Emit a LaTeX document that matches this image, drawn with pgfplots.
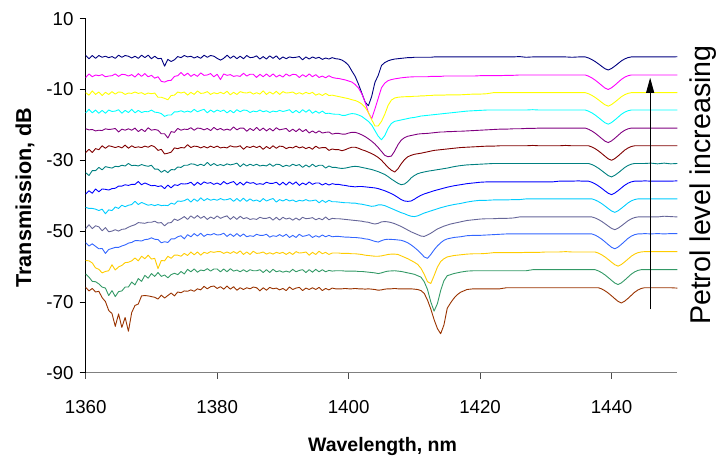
\documentclass[border=0pt]{standalone}
\usepackage{pgfplots}
\pgfplotsset{compat=1.18}
\usepackage{pgfplotstable}
\usepackage{fontspec}
\setmainfont{Liberation Sans}
\usetikzlibrary{arrows.meta}

\definecolor{cNavy}{HTML}{000080}
\definecolor{cMagenta}{HTML}{FF00FF}
\definecolor{cYellow}{HTML}{FFFF00}
\definecolor{cCyan}{HTML}{00FFFF}
\definecolor{cPurple}{HTML}{800080}
\definecolor{cMaroon}{HTML}{800000}
\definecolor{cTeal}{HTML}{008080}
\definecolor{cBlue}{HTML}{0000FF}
\definecolor{cSky}{HTML}{00CCFF}
\definecolor{cSlate}{HTML}{666699}
\definecolor{cRoyal}{HTML}{3366FF}
\definecolor{cGold}{HTML}{FFCC00}
\definecolor{cGreen}{HTML}{339966}
\definecolor{cBrown}{HTML}{993300}

% Transmission spectra (dB), one column per petrol level, offset for display
\pgfplotstableread{
x t0 t1 t2 t3 t4 t5 t6 t7 t8 t9 t10 t11 t12 t13
1360.0 -0.4 -6.6 -10.9 -16.6 -21.1 -27.8 -33.5 -39.5 -43.3 -49.3 -53.3 -58.3 -62.1 -65.9
1360.5 -1.3 -5.6 -11.6 -15.6 -21.4 -26.9 -34.3 -38.6 -43.6 -48.2 -54.2 -58.4 -63.0 -66.9
1361.0 -0.4 -6.4 -10.4 -16.6 -21.3 -27.8 -32.9 -39.3 -43.6 -49.3 -53.6 -59.0 -64.2 -66.2
1361.5 -1.2 -5.9 -11.4 -15.8 -21.7 -26.7 -32.9 -38.1 -43.8 -48.5 -54.3 -60.4 -64.3 -67.2
1362.0 -0.4 -6.1 -10.7 -16.7 -21.5 -27.0 -32.0 -38.9 -44.2 -48.8 -55.0 -60.8 -64.9 -67.0
1362.5 -0.9 -5.8 -11.7 -15.9 -21.6 -25.9 -32.7 -38.1 -43.8 -49.9 -54.9 -61.8 -65.8 -68.8
1363.0 -0.6 -6.4 -10.8 -16.7 -21.1 -26.6 -31.8 -38.2 -45.1 -49.0 -56.3 -61.4 -66.1 -69.9
1363.5 -1.0 -6.2 -11.4 -15.8 -21.3 -25.9 -32.0 -38.4 -44.0 -50.2 -55.2 -61.2 -68.2 -72.4
1364.0 -0.7 -6.1 -10.6 -16.2 -21.2 -26.1 -32.2 -38.0 -44.2 -50.0 -54.9 -59.5 -66.8 -73.3
1364.5 -1.2 -5.6 -11.3 -16.1 -21.0 -26.4 -31.7 -37.9 -43.2 -49.6 -54.6 -61.0 -68.5 -76.9
1365.0 -0.3 -6.3 -10.7 -15.7 -22.0 -26.1 -31.8 -37.3 -43.6 -50.0 -54.6 -60.1 -67.1 -73.4
1365.5 -0.9 -5.7 -10.8 -16.7 -21.2 -26.5 -31.4 -37.3 -42.7 -49.5 -54.2 -59.7 -66.9 -77.2
1366.0 -0.4 -5.8 -11.4 -15.9 -21.5 -25.7 -31.6 -36.9 -43.1 -49.4 -53.9 -58.9 -65.8 -74.4
1366.5 -0.6 -6.2 -11.0 -16.5 -21.1 -26.6 -30.9 -37.1 -42.7 -48.9 -53.4 -58.8 -65.8 -78.3
1367.0 -1.1 -5.8 -11.1 -15.6 -21.5 -25.9 -31.5 -36.8 -42.5 -48.5 -53.2 -58.4 -64.4 -73.0
1367.5 -0.6 -6.5 -10.7 -16.6 -20.9 -26.4 -31.4 -36.8 -41.6 -48.2 -52.7 -57.6 -65.2 -71.0
1368.0 -1.2 -5.5 -11.1 -15.9 -21.9 -26.2 -31.6 -36.0 -42.5 -47.6 -52.7 -58.4 -63.4 -70.6
1368.5 -0.3 -6.3 -10.9 -16.5 -21.2 -26.4 -31.2 -36.9 -41.9 -47.7 -52.8 -57.1 -64.2 -68.3
1369.0 -1.0 -5.5 -11.4 -16.2 -21.9 -26.0 -31.5 -36.4 -42.3 -47.8 -52.4 -57.8 -62.5 -68.2
1369.5 -0.3 -6.4 -11.0 -16.3 -20.8 -26.3 -31.7 -36.8 -42.7 -47.5 -52.3 -56.8 -63.3 -68.3
1370.0 -1.3 -6.0 -11.2 -15.8 -21.5 -25.8 -31.4 -37.2 -42.5 -47.5 -51.9 -57.9 -62.0 -68.5
1370.5 -0.6 -6.8 -11.0 -16.4 -21.3 -26.2 -32.5 -37.1 -42.8 -47.2 -52.3 -57.7 -62.8 -68.7
1371.0 -1.3 -6.4 -12.2 -16.5 -21.5 -27.2 -32.5 -37.4 -42.5 -47.7 -52.4 -60.6 -61.7 -69.2
1371.5 -1.2 -7.7 -12.2 -16.8 -22.5 -26.9 -33.4 -37.2 -42.8 -47.6 -53.3 -58.3 -62.8 -68.1
1372.0 -3.4 -7.9 -12.5 -17.6 -22.5 -28.2 -32.8 -38.0 -42.7 -48.5 -53.0 -58.4 -62.4 -68.9
1372.5 -1.5 -7.5 -12.9 -17.2 -23.7 -28.0 -33.5 -37.0 -42.8 -47.7 -53.2 -57.1 -63.2 -68.2
1373.0 -2.1 -7.4 -11.7 -17.2 -21.9 -27.7 -32.6 -37.8 -42.1 -47.6 -52.2 -57.7 -62.3 -67.5
1373.5 -1.6 -6.3 -11.6 -16.3 -22.1 -26.5 -32.7 -36.9 -42.4 -46.6 -52.2 -56.8 -61.9 -68.3
1374.0 -0.7 -6.1 -10.7 -16.3 -21.0 -26.7 -31.9 -37.1 -41.5 -47.0 -51.6 -56.8 -62.3 -67.2
1374.5 -1.0 -5.2 -11.0 -16.0 -21.5 -26.4 -32.0 -36.6 -41.6 -46.5 -51.3 -57.1 -61.4 -67.4
1375.0 -0.4 -6.1 -10.7 -16.4 -21.2 -26.5 -31.4 -36.7 -41.4 -45.9 -52.2 -56.3 -62.1 -66.9
1375.5 -0.8 -5.4 -11.6 -16.1 -21.3 -25.6 -31.4 -36.6 -40.9 -46.7 -51.0 -56.9 -60.8 -67.0
1376.0 -0.6 -6.3 -10.8 -16.4 -20.8 -26.4 -31.0 -36.2 -41.8 -45.7 -51.6 -55.9 -61.5 -66.6
1376.5 -1.1 -5.7 -11.4 -15.6 -21.5 -26.0 -31.1 -37.1 -40.9 -46.4 -50.7 -56.7 -60.7 -67.0
1377.0 -0.7 -6.3 -10.4 -16.3 -20.9 -26.1 -31.5 -36.2 -41.6 -45.6 -51.4 -55.9 -61.6 -66.3
1377.5 -1.2 -5.3 -11.1 -15.9 -21.0 -26.5 -31.1 -36.9 -40.6 -46.4 -50.6 -56.8 -61.0 -66.6
1378.0 -0.3 -6.0 -11.0 -15.6 -21.4 -26.1 -31.5 -36.1 -41.4 -45.8 -51.5 -56.0 -61.2 -65.6
1378.5 -0.9 -5.9 -10.6 -16.6 -21.0 -26.5 -30.6 -36.5 -40.8 -46.7 -50.9 -56.3 -60.6 -66.3
1379.0 -0.4 -5.5 -11.4 -15.8 -21.6 -26.0 -31.5 -36.3 -41.3 -46.0 -51.1 -55.8 -61.3 -65.7
1379.5 -0.6 -6.4 -10.9 -16.4 -20.7 -26.4 -30.9 -36.8 -41.0 -46.5 -50.7 -56.0 -60.7 -65.5
1380.0 -1.2 -5.7 -11.2 -15.8 -21.4 -26.0 -31.5 -36.4 -41.3 -45.7 -51.1 -55.8 -60.7 -66.2
1380.5 -1.7 -7.2 -10.8 -16.2 -21.0 -26.5 -31.2 -36.9 -40.8 -46.4 -51.0 -55.8 -61.5 -65.7
1381.0 -1.2 -5.6 -11.2 -15.8 -21.5 -26.3 -31.5 -36.0 -41.2 -46.0 -50.6 -56.3 -60.7 -66.4
1381.5 -0.3 -6.0 -10.5 -16.6 -21.2 -26.5 -31.0 -36.7 -41.1 -45.7 -51.5 -55.9 -61.5 -65.5
1382.0 -1.2 -5.8 -11.5 -15.9 -21.5 -25.9 -31.3 -36.3 -40.8 -46.7 -50.8 -56.3 -60.6 -66.4
1382.5 -0.5 -6.3 -10.8 -16.6 -20.6 -26.2 -31.1 -36.0 -41.6 -45.9 -51.5 -55.8 -61.3 -65.7
1383.0 -1.3 -6.1 -11.4 -15.7 -21.4 -26.2 -30.8 -37.0 -40.8 -46.7 -50.7 -56.3 -61.0 -66.7
1383.5 -0.6 -6.3 -10.6 -16.3 -20.9 -25.9 -31.8 -36.2 -41.6 -45.8 -51.5 -55.6 -61.5 -66.0
1384.0 -1.3 -5.4 -10.9 -15.8 -20.9 -26.9 -31.0 -37.0 -40.7 -46.5 -50.8 -56.6 -60.9 -66.5
1384.5 -0.4 -6.2 -11.0 -15.9 -21.8 -26.1 -31.6 -36.1 -41.6 -46.2 -51.6 -55.9 -61.5 -66.0
1385.0 -1.0 -5.7 -10.7 -16.5 -21.0 -26.4 -31.1 -36.5 -40.9 -46.7 -51.3 -56.6 -60.9 -66.3
1385.5 -0.9 -5.7 -11.3 -16.1 -21.6 -26.0 -31.5 -36.3 -41.5 -46.5 -51.5 -55.7 -61.2 -65.8
1386.0 -0.5 -6.6 -10.9 -16.3 -20.7 -26.4 -31.1 -36.8 -41.2 -46.7 -50.9 -56.3 -61.2 -66.0
1386.5 -1.4 -5.7 -11.3 -15.8 -21.6 -26.0 -31.6 -36.6 -41.7 -46.1 -51.2 -56.2 -60.9 -66.9
1387.0 -0.7 -6.4 -10.4 -16.3 -20.9 -26.9 -31.4 -36.8 -40.8 -46.4 -51.2 -55.9 -61.7 -66.0
1387.5 -1.4 -5.6 -11.4 -16.0 -21.7 -26.1 -31.6 -36.2 -41.5 -46.4 -50.9 -56.5 -60.9 -66.7
1388.0 -0.5 -6.4 -10.7 -16.5 -21.0 -26.7 -31.0 -36.5 -41.1 -46.1 -51.7 -56.1 -61.7 -65.9
1388.5 -1.2 -5.6 -11.3 -16.1 -21.7 -25.9 -31.7 -36.5 -40.8 -46.9 -51.3 -56.5 -60.8 -66.3
1389.0 -0.5 -6.5 -10.5 -16.3 -20.8 -26.6 -31.1 -36.2 -41.8 -46.1 -51.5 -56.0 -61.5 -66.1
1389.5 -1.5 -5.9 -11.4 -15.9 -21.4 -26.0 -31.2 -37.0 -41.1 -46.9 -51.0 -56.3 -61.2 -66.6
1390.0 -0.8 -6.5 -10.6 -16.2 -21.2 -26.1 -31.8 -36.2 -41.5 -46.1 -51.5 -56.0 -61.6 -66.2
1390.5 -1.3 -5.6 -11.0 -16.0 -21.0 -26.7 -31.4 -37.0 -41.0 -46.6 -50.9 -56.6 -61.3 -66.8
1391.0 -0.8 -6.2 -10.9 -15.7 -21.9 -26.3 -31.7 -36.1 -41.5 -46.3 -51.8 -56.0 -61.6 -65.8
1391.5 -1.0 -5.7 -10.7 -16.6 -21.2 -26.5 -31.1 -36.8 -41.2 -46.9 -51.2 -56.6 -60.8 -66.5
1392.0 -0.9 -5.8 -11.3 -15.9 -21.9 -26.0 -31.5 -36.1 -41.7 -46.3 -51.8 -55.8 -61.5 -66.1
1392.5 -0.7 -6.6 -10.9 -16.6 -21.1 -26.5 -31.2 -37.1 -41.3 -46.9 -50.9 -56.2 -61.1 -65.9
1393.0 -1.6 -5.8 -11.3 -15.7 -21.9 -26.2 -32.0 -36.4 -41.5 -46.1 -51.5 -56.1 -60.9 -66.8
1393.5 -0.8 -6.4 -10.8 -16.4 -21.3 -26.7 -31.3 -36.9 -41.1 -46.5 -51.3 -55.9 -61.7 -66.1
1394.0 -1.4 -5.6 -11.2 -15.7 -22.3 -26.3 -31.9 -36.1 -41.5 -46.4 -51.0 -56.8 -60.9 -66.5
1394.5 -0.8 -6.4 -10.8 -16.7 -21.7 -26.9 -31.1 -36.8 -41.4 -46.2 -51.8 -56.0 -61.6 -66.0
1395.0 -1.2 -5.8 -11.6 -16.1 -22.3 -26.0 -31.8 -36.4 -41.2 -46.8 -51.3 -56.6 -60.8 -66.5
1395.5 -0.9 -6.6 -11.2 -16.7 -21.7 -26.6 -31.4 -36.4 -42.0 -46.4 -51.7 -55.7 -61.5 -65.9
1396.0 -1.5 -6.2 -11.7 -16.1 -22.3 -26.4 -31.4 -37.0 -41.3 -46.8 -51.1 -56.4 -60.9 -66.8
1396.5 -1.1 -6.7 -11.1 -16.8 -22.1 -26.4 -32.2 -36.5 -41.9 -46.0 -51.6 -56.0 -61.5 -66.2
1397.0 -1.4 -6.1 -11.7 -16.7 -22.0 -27.2 -31.6 -37.0 -41.3 -46.8 -51.2 -56.6 -61.1 -66.6
1397.5 -1.0 -6.6 -11.6 -16.9 -22.6 -26.8 -32.0 -36.6 -41.7 -46.4 -51.6 -56.2 -61.3 -66.1
1398.0 -1.3 -6.8 -11.8 -17.0 -22.4 -27.0 -32.0 -36.8 -41.7 -46.5 -51.5 -56.2 -61.2 -66.3
1398.5 -1.4 -6.9 -12.0 -17.0 -22.4 -27.0 -32.2 -36.8 -41.8 -46.5 -51.5 -56.2 -61.2 -66.3
1399.0 -1.7 -7.1 -12.2 -17.3 -22.6 -27.3 -32.3 -37.0 -41.9 -46.6 -51.6 -56.3 -61.2 -66.3
1399.5 -2.3 -7.3 -12.4 -17.3 -22.6 -27.0 -32.2 -37.1 -42.0 -46.7 -51.7 -56.3 -61.3 -66.2
1400.0 -3.2 -7.6 -12.6 -17.0 -22.3 -26.6 -32.0 -37.3 -42.0 -46.8 -51.7 -56.3 -61.3 -66.3
1400.5 -4.8 -7.9 -12.9 -16.8 -22.1 -26.3 -31.8 -37.4 -42.1 -46.9 -51.8 -56.4 -61.3 -66.3
1401.0 -6.3 -8.6 -13.1 -16.9 -22.1 -26.3 -31.7 -37.5 -42.1 -47.0 -51.8 -56.4 -61.3 -66.2
1401.5 -8.5 -9.6 -13.5 -17.2 -22.4 -26.6 -31.8 -37.4 -42.3 -47.1 -51.9 -56.5 -61.4 -66.3
1402.0 -11.0 -11.2 -14.1 -17.6 -22.8 -27.0 -32.0 -37.4 -42.4 -47.2 -52.0 -56.6 -61.4 -66.3
1402.5 -13.5 -13.5 -15.0 -18.3 -23.3 -27.3 -32.2 -37.5 -42.6 -47.4 -52.2 -56.8 -61.5 -66.4
1403.0 -14.6 -16.5 -16.5 -19.0 -23.9 -27.7 -32.4 -37.6 -42.8 -47.5 -52.3 -56.9 -61.6 -66.3
1403.5 -12.0 -18.3 -18.5 -20.0 -24.6 -28.1 -32.6 -37.7 -43.0 -47.8 -52.6 -57.0 -61.7 -66.4
1404.0 -8.0 -15.5 -20.3 -21.6 -25.4 -28.6 -32.9 -37.8 -42.9 -48.0 -52.9 -57.1 -61.8 -66.5
1404.5 -6.0 -12.5 -20.3 -23.2 -26.4 -29.2 -33.2 -38.0 -42.6 -47.8 -53.1 -57.1 -62.0 -66.7
1405.0 -3.2 -9.5 -19.0 -24.2 -27.5 -30.0 -33.6 -38.3 -42.6 -47.4 -52.7 -57.0 -61.8 -66.6
1405.5 -2.4 -8.2 -17.0 -23.0 -28.6 -31.0 -34.0 -38.6 -42.8 -47.3 -52.4 -56.8 -61.5 -66.4
1406.0 -1.9 -7.5 -14.5 -21.0 -29.0 -32.0 -34.6 -39.0 -43.2 -47.4 -52.3 -56.6 -61.3 -66.3
1406.5 -1.6 -7.2 -13.0 -19.6 -28.8 -32.8 -35.3 -39.4 -43.6 -47.6 -52.35 -56.5 -61.25 -66.3
1407.0 -1.4 -7.0 -12.4 -19.0 -27.4 -33.3 -35.9 -39.9 -44.0 -47.9 -52.4 -56.5 -61.2 -66.2
1407.5 -1.3 -6.85 -12.2 -18.8 -25.6 -32.4 -36.5 -40.5 -44.4 -48.3 -52.5 -56.6 -61.3 -66.3
1408.0 -1.2 -6.7 -12.1 -18.6 -24.3 -31.0 -36.9 -41.1 -44.8 -48.7 -52.6 -57.0 -61.4 -66.3
1408.5 -1.1 -6.6 -12.05 -18.4 -23.6 -29.8 -36.7 -41.5 -45.1 -49.2 -52.9 -57.4 -61.6 -66.3
1409.0 -1.0 -6.5 -12.0 -18.2 -23.2 -29.0 -36.0 -41.6 -45.5 -49.7 -53.3 -57.8 -61.8 -66.3
1409.5 -1.0 -6.45 -12.0 -18.0 -23.0 -28.6 -35.0 -41.5 -45.8 -50.2 -53.9 -58.3 -62.0 -66.3
1410.0 -0.9 -6.4 -11.9 -17.9 -22.8 -28.3 -34.3 -41.0 -45.9 -50.6 -54.6 -58.8 -62.2 -66.4
1410.5 -0.9 -6.4 -11.9 -17.7 -22.6 -28.15 -33.8 -40.4 -45.7 -51.0 -55.4 -59.4 -62.6 -66.5
1411.0 -0.9 -6.4 -11.8 -17.5 -22.5 -28.0 -33.5 -39.9 -45.3 -51.4 -56.3 -60.5 -63.0 -66.8
1411.5 -0.9 -6.4 -11.8 -17.4 -22.45 -27.8 -33.3 -39.5 -44.9 -51.5 -57.3 -62.2 -64.3 -67.6
1412.0 -0.9 -6.4 -11.7 -17.3 -22.4 -27.6 -33.1 -39.2 -44.6 -51.1 -57.7 -64.3 -66.5 -69.5
1412.5 -0.9 -6.3 -11.7 -17.2 -22.3 -27.4 -32.95 -38.9 -44.3 -50.6 -56.6 -64.8 -70.0 -72.0
1413.0 -0.8 -6.3 -11.6 -17.1 -22.2 -27.2 -32.8 -38.6 -44.0 -50.0 -55.3 -62.6 -72.6 -75.0
1413.5 -0.8 -6.3 -11.6 -17.0 -22.1 -27.1 -32.65 -38.35 -43.7 -49.4 -54.2 -60.2 -70.5 -77.5
1414.0 -0.8 -6.3 -11.6 -16.9 -22.0 -27.0 -32.5 -38.1 -43.4 -49.0 -53.3 -58.6 -66.8 -79.0
1414.5 -0.8 -6.2 -11.6 -16.8 -22.0 -26.9 -32.35 -37.85 -43.15 -48.6 -52.6 -57.8 -64.0 -76.5
1415.0 -0.8 -6.2 -11.5 -16.7 -21.9 -26.8 -32.2 -37.6 -42.9 -48.3 -52.2 -57.3 -62.6 -71.8
1415.5 -0.8 -6.2 -11.5 -16.6 -21.9 -26.7 -32.0 -37.4 -42.7 -48.0 -52.0 -57.1 -62.3 -70.3
1416.0 -0.8 -6.2 -11.5 -16.5 -21.85 -26.6 -31.8 -37.2 -42.5 -47.8 -51.8 -56.9 -62.0 -69.0
1416.5 -0.8 -6.2 -11.5 -16.4 -21.8 -26.5 -31.65 -37.05 -42.35 -47.6 -51.7 -56.8 -61.8 -68.0
1417.0 -0.8 -6.2 -11.5 -16.3 -21.8 -26.4 -31.5 -36.9 -42.2 -47.4 -51.6 -56.7 -61.6 -67.3
1418.0 -0.8 -6.2 -11.4 -16.1 -21.7 -26.3 -31.3 -36.6 -41.8 -47.0 -51.3 -56.5 -61.3 -66.5
1419.0 -0.8 -6.2 -11.3 -16.0 -21.6 -26.2 -31.2 -36.4 -41.5 -46.8 -51.2 -56.4 -61.2 -66.3
1420.0 -0.8 -6.1 -11.3 -15.9 -21.5 -26.1 -31.1 -36.2 -41.3 -46.6 -51.2 -56.4 -61.2 -66.3
1421.0 -0.8 -6.1 -11.2 -15.8 -21.4 -26.0 -31.0 -36.1 -41.3 -46.5 -51.1 -56.3 -61.2 -66.3
1422.0 -0.8 -6.1 -10.9 -15.8 -21.3 -26.0 -30.9 -36.1 -41.2 -46.5 -51.0 -56.1 -61.2 -66.3
1423.0 -0.8 -6.1 -10.9 -15.8 -21.2 -25.9 -30.9 -36.1 -41.2 -46.4 -50.9 -56.1 -61.2 -66.3
1424.0 -0.8 -6.0 -10.9 -15.8 -21.2 -25.9 -30.9 -36.1 -41.2 -46.4 -50.8 -56.1 -61.2 -66.0
1425.0 -0.8 -6.0 -10.9 -15.8 -21.1 -25.9 -30.9 -36.1 -41.1 -46.3 -50.8 -56.1 -61.2 -66.0
1426.0 -0.7 -5.9 -10.9 -15.8 -21.1 -25.9 -30.9 -36.1 -41.1 -46.0 -50.8 -56.1 -61.2 -66.0
1427.0 -0.9 -5.9 -10.9 -15.8 -21.0 -25.9 -30.9 -36.1 -40.9 -46.0 -50.8 -56.0 -61.2 -66.0
1428.0 -0.8 -5.9 -10.9 -15.7 -21.0 -25.8 -30.9 -36.1 -40.9 -46.0 -50.8 -56.0 -60.9 -66.0
1429.0 -0.8 -5.9 -10.9 -15.8 -20.9 -25.9 -30.9 -36.1 -40.9 -46.0 -50.8 -56.0 -60.9 -66.0
1430.0 -0.8 -5.9 -10.9 -15.8 -20.9 -25.9 -30.9 -36.1 -40.9 -46.0 -50.8 -55.9 -60.9 -66.0
1431.0 -0.8 -5.9 -10.9 -15.8 -20.9 -25.9 -30.9 -36.1 -40.9 -46.0 -50.8 -55.9 -60.9 -66.0
1432.0 -0.8 -5.9 -10.9 -15.8 -20.9 -25.9 -30.9 -35.9 -40.9 -46.0 -50.8 -55.9 -60.9 -66.0
1433.0 -0.8 -5.9 -10.9 -15.8 -20.9 -25.8 -30.9 -35.9 -40.9 -46.0 -50.8 -55.8 -60.9 -66.0
1434.0 -0.9 -5.9 -10.9 -15.8 -20.9 -25.9 -30.9 -35.9 -40.9 -46.0 -50.8 -55.9 -60.9 -66.0
1435.0 -0.8 -5.9 -10.9 -15.8 -20.9 -25.9 -30.9 -35.8 -40.9 -46.0 -50.8 -55.9 -60.9 -66.0
1435.5 -0.8 -5.9 -10.9 -15.8 -20.9 -25.9 -30.9 -35.9 -40.9 -46.0 -50.8 -55.9 -60.9 -66.0
1436.0 -0.8 -5.9 -10.9 -15.8 -20.9 -25.9 -30.9 -35.9 -40.9 -46.0 -50.8 -55.9 -60.9 -66.0
1436.5 -1.1 -6.23 -11.2 -16.12 -21.23 -25.9 -30.9 -35.9 -40.9 -46.0 -50.8 -55.9 -60.9 -66.0
1437.0 -1.54 -6.72 -11.66 -16.6 -21.72 -26.23 -31.2 -36.2 -40.9 -46.0 -50.8 -55.9 -60.9 -66.0
1437.5 -2.1 -7.34 -12.23 -17.2 -22.34 -26.72 -31.66 -36.66 -41.2 -46.29 -51.14 -55.9 -60.9 -66.0
1438.0 -2.76 -8.07 -12.91 -17.92 -23.07 -27.34 -32.23 -37.23 -41.66 -46.72 -51.64 -56.22 -61.24 -66.0
1438.5 -3.46 -8.85 -13.64 -18.68 -23.85 -28.07 -32.91 -37.91 -42.23 -47.26 -52.27 -56.7 -61.74 -66.34
1439.0 -4.13 -9.59 -14.32 -19.4 -24.59 -28.85 -33.64 -38.64 -42.91 -47.91 -53.03 -57.3 -62.37 -66.86
1439.5 -4.5 -10.0 -14.7 -19.8 -25.0 -29.59 -34.32 -39.32 -43.64 -48.59 -53.82 -58.02 -63.13 -67.51
1440.0 -4.06 -9.51 -14.24 -19.32 -24.51 -30.0 -34.7 -39.7 -44.32 -49.24 -54.58 -58.78 -63.92 -68.28
1440.5 -3.39 -8.77 -13.56 -18.6 -23.77 -29.51 -34.24 -39.24 -44.7 -49.6 -55.0 -59.5 -64.68 -69.1
1441.0 -2.65 -7.95 -12.8 -17.8 -22.95 -28.77 -33.56 -38.56 -44.24 -49.17 -54.5 -59.9 -65.1 -69.87
1441.5 -1.91 -7.13 -12.04 -17.0 -22.13 -27.95 -32.8 -37.8 -43.56 -48.52 -53.74 -59.42 -64.6 -70.3
1442.0 -1.36 -6.52 -11.47 -16.4 -21.52 -27.13 -32.04 -37.04 -42.8 -47.8 -52.9 -58.7 -63.84 -69.78
1442.5 -0.99 -6.11 -11.09 -16.0 -21.11 -26.52 -31.47 -36.47 -42.04 -47.08 -52.06 -57.9 -63.0 -69.01
1443.0 -0.8 -5.9 -10.9 -15.8 -20.9 -26.11 -31.09 -36.09 -41.47 -46.54 -51.43 -57.1 -62.16 -68.15
1443.5 -0.8 -5.9 -10.9 -15.8 -20.9 -25.9 -30.9 -35.9 -41.09 -46.18 -51.01 -56.5 -61.53 -67.29
1444.0 -0.8 -5.9 -10.9 -15.8 -20.9 -25.9 -30.9 -35.9 -40.9 -46.0 -50.8 -56.1 -61.11 -66.65
1444.5 -0.8 -5.9 -10.9 -15.8 -20.9 -25.9 -30.9 -35.9 -40.9 -46.0 -50.8 -55.9 -60.9 -66.22
1445.0 -0.8 -5.9 -10.9 -15.8 -20.9 -25.9 -30.9 -35.8 -40.9 -46.0 -50.7 -55.8 -60.9 -66.0
1446.0 -0.8 -5.9 -10.9 -15.8 -20.9 -25.9 -30.8 -35.9 -40.9 -46.0 -50.8 -55.8 -60.9 -66.0
1447.0 -0.8 -5.9 -10.9 -15.8 -20.9 -25.9 -31.0 -35.9 -40.9 -46.0 -50.7 -55.8 -60.9 -66.0
1448.0 -0.8 -5.9 -10.9 -15.8 -20.9 -25.9 -30.8 -35.9 -40.9 -45.8 -50.8 -55.8 -60.9 -66.0
1449.0 -0.8 -5.9 -10.9 -15.8 -20.9 -25.9 -31.0 -35.9 -40.9 -45.9 -50.7 -55.8 -60.9 -66.0
1450.0 -0.75 -5.9 -10.9 -15.8 -20.9 -25.9 -30.9 -35.8 -40.9 -46.0 -50.7 -55.8 -60.9 -66.1
}\spectra

\begin{document}
\begin{tikzpicture}
\path[use as bounding box] (-85.7pt,-86.3pt) rectangle (630.3pt,372.7pt);
\begin{axis}[
  at={(0,0)}, anchor=south west,
  scale only axis, width=591.6pt, height=354pt,
  xmin=1360, xmax=1450, ymin=-90, ymax=10,
  axis x line*=bottom, axis y line*=left,
  xtick={1360,1380,1400,1420,1440},
  ytick={-90,-70,-50,-30,-10,10},
  tick align=outside, major tick length=6pt,
  x axis line style={draw=black!50, line width=1.3pt},
  y axis line style={draw=black, line width=0.8pt},
  xtick style={draw=black!70, line width=0.9pt},
  ytick style={draw=black, line width=0.8pt},
  /pgf/number format/assume math mode=true,
  /pgf/number format/1000 sep={},
  tick label style={font=\fontsize{18.7}{20}\selectfont, inner sep=0pt},
  yticklabel style={anchor=east, xshift=-6pt},
  xticklabel style={anchor=north, yshift=-22pt},
  xlabel={Wavelength, nm},
  ylabel={Transmission, dB},
  xlabel style={at={(axis description cs:0.5017,-0.2232)}, anchor=base,
    font=\bfseries\fontsize{19.5}{22}\selectfont},
  ylabel style={at={(axis description cs:-0.1026,0.495)}, anchor=center,
    font=\bfseries\fontsize{21.6}{24}\selectfont},
  clip=false,
  every axis plot/.append style={line width=0.9pt, mark=none, line join=round},
]
\addplot[cNavy]    table[x=x, y=t0]  {\spectra};
\addplot[cMagenta] table[x=x, y=t1]  {\spectra};
\addplot[cYellow]  table[x=x, y=t2]  {\spectra};
\addplot[cCyan]    table[x=x, y=t3]  {\spectra};
\addplot[cPurple]  table[x=x, y=t4]  {\spectra};
\addplot[cMaroon]  table[x=x, y=t5]  {\spectra};
\addplot[cTeal]    table[x=x, y=t6]  {\spectra};
\addplot[cBlue]    table[x=x, y=t7]  {\spectra};
\addplot[cSky]     table[x=x, y=t8]  {\spectra};
\addplot[cSlate]   table[x=x, y=t9]  {\spectra};
\addplot[cRoyal]   table[x=x, y=t10] {\spectra};
\addplot[cGold]    table[x=x, y=t11] {\spectra};
\addplot[cGreen]   table[x=x, y=t12] {\spectra};
\addplot[cBrown]   table[x=x, y=t13] {\spectra};

% direction of increasing petrol level
\draw[black, line width=0.9pt, -{Triangle[length=15pt, width=8pt]}]
  (axis cs:1445.87,-72.1) -- (axis cs:1445.87,-6.7);
\node[rotate=90, anchor=base, font=\fontsize{28.6}{30}\selectfont]
  at (rel axis cs:1.0553,0.530) {Petrol level increasing};
\end{axis}
\end{tikzpicture}
\end{document}
